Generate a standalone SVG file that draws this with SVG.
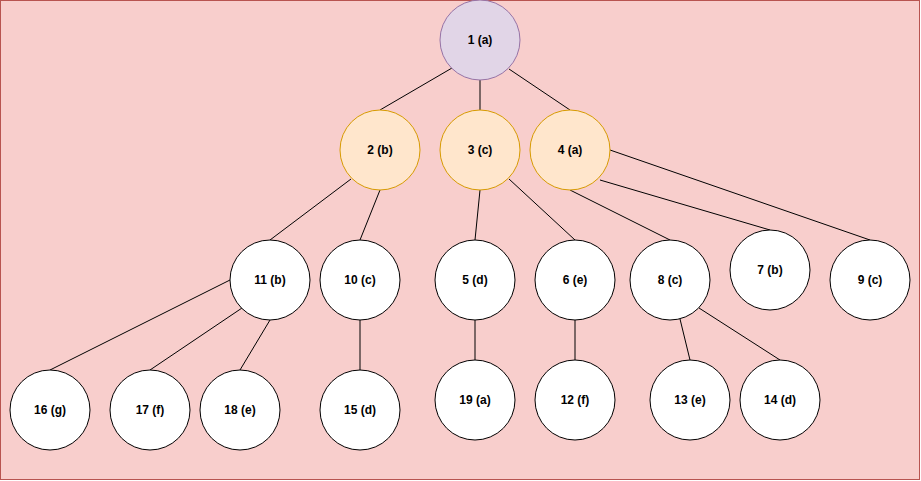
<svg xmlns="http://www.w3.org/2000/svg" width="921" height="481" viewBox="0 0 921 481">
  <style>
    .edge { stroke: #000000; stroke-width: 1; fill: none; }
    .node { stroke: #000000; stroke-width: 1; fill: #ffffff; }
    .root { fill: #e1d5e7; stroke: #9673a6; }
    .mid { fill: #ffe6cc; stroke: #d79b00; }
    .label { font-family: "Liberation Sans", Arial, Helvetica, sans-serif; font-size: 12px; font-weight: bold; fill: #000000; text-anchor: middle; dominant-baseline: central; }
  </style>

  <!-- canvas -->
  <rect x="0.5" y="0.5" width="919" height="479" fill="#f8cecc" stroke="#b85450" stroke-width="1"/>

  <!-- connectors -->
  <g id="edges">
    <line class="edge" x1="452" y1="68" x2="380" y2="110"/>
    <line class="edge" x1="480" y1="80" x2="480" y2="110"/>
    <line class="edge" x1="509" y1="69" x2="570" y2="110"/>
    <line class="edge" x1="351" y1="179" x2="270" y2="240"/>
    <line class="edge" x1="380" y1="190" x2="360" y2="240"/>
    <line class="edge" x1="480" y1="190" x2="475" y2="240"/>
    <line class="edge" x1="509" y1="179" x2="575" y2="240"/>
    <line class="edge" x1="570" y1="190" x2="670" y2="240"/>
    <line class="edge" x1="600" y1="180" x2="770" y2="230"/>
    <line class="edge" x1="610" y1="150" x2="870" y2="240"/>
    <line class="edge" x1="230" y1="280" x2="50" y2="370"/>
    <line class="edge" x1="242" y1="308" x2="150" y2="370"/>
    <line class="edge" x1="270" y1="320" x2="240" y2="370"/>
    <line class="edge" x1="360" y1="320" x2="360" y2="370"/>
    <line class="edge" x1="475" y1="320" x2="475" y2="360"/>
    <line class="edge" x1="575" y1="320" x2="575" y2="360"/>
    <line class="edge" x1="680" y1="319" x2="690" y2="360"/>
    <line class="edge" x1="699" y1="308" x2="780" y2="360"/>
  </g>

  <!-- nodes -->
  <g id="n1"><circle class="node root" cx="480" cy="40" r="40"/><text class="label" x="480" y="40">1 (a)</text></g>
  <g id="n2"><circle class="node mid" cx="380" cy="150" r="40"/><text class="label" x="380" y="150">2 (b)</text></g>
  <g id="n3"><circle class="node mid" cx="480" cy="150" r="40"/><text class="label" x="480" y="150">3 (c)</text></g>
  <g id="n4"><circle class="node mid" cx="570" cy="150" r="40"/><text class="label" x="570" y="150">4 (a)</text></g>

  <g id="n11"><circle class="node" cx="270" cy="280" r="40"/><text class="label" x="270" y="280">11 (b)</text></g>
  <g id="n10"><circle class="node" cx="360" cy="280" r="40"/><text class="label" x="360" y="280">10 (c)</text></g>
  <g id="n5"><circle class="node" cx="475" cy="280" r="40"/><text class="label" x="475" y="280">5 (d)</text></g>
  <g id="n6"><circle class="node" cx="575" cy="280" r="40"/><text class="label" x="575" y="280">6 (e)</text></g>
  <g id="n8"><circle class="node" cx="670" cy="280" r="40"/><text class="label" x="670" y="280">8 (c)</text></g>
  <g id="n7"><circle class="node" cx="770" cy="270" r="40"/><text class="label" x="770" y="270">7 (b)</text></g>
  <g id="n9"><circle class="node" cx="870" cy="280" r="40"/><text class="label" x="870" y="280">9 (c)</text></g>

  <g id="n16"><circle class="node" cx="50" cy="410" r="40"/><text class="label" x="50" y="410">16 (g)</text></g>
  <g id="n17"><circle class="node" cx="150" cy="410" r="40"/><text class="label" x="150" y="410">17 (f)</text></g>
  <g id="n18"><circle class="node" cx="240" cy="410" r="40"/><text class="label" x="240" y="410">18 (e)</text></g>
  <g id="n15"><circle class="node" cx="360" cy="410" r="40"/><text class="label" x="360" y="410">15 (d)</text></g>
  <g id="n19"><circle class="node" cx="475" cy="400" r="40"/><text class="label" x="475" y="400">19 (a)</text></g>
  <g id="n12"><circle class="node" cx="575" cy="400" r="40"/><text class="label" x="575" y="400">12 (f)</text></g>
  <g id="n13"><circle class="node" cx="690" cy="400" r="40"/><text class="label" x="690" y="400">13 (e)</text></g>
  <g id="n14"><circle class="node" cx="780" cy="400" r="40"/><text class="label" x="780" y="400">14 (d)</text></g>
</svg>
